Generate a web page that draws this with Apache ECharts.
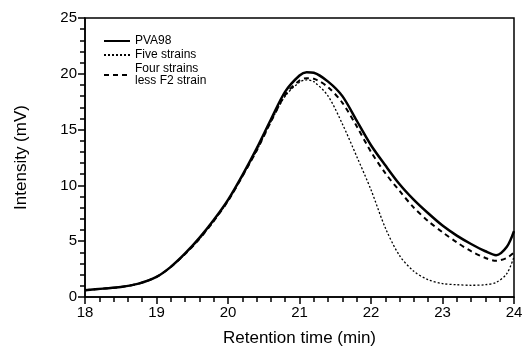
<!DOCTYPE html>
<html>
<head>
<meta charset="utf-8">
<script src="https://cdn.jsdelivr.net/npm/echarts@6/dist/echarts.min.js"></script>
<style>
  html, body { margin: 0; padding: 0; background: #fff; }
  #chart { width: 532px; height: 352px; }
</style>
</head>
<body>
<div id="chart"></div>
<script>
// 保留时间 (min)
let times = [18, 18.25, 18.5, 18.75, 19, 19.2, 19.4, 19.6, 19.8, 20, 20.2, 20.4, 20.6, 20.8,
    21, 21.1, 21.2, 21.4, 21.6, 21.8, 22, 22.2, 22.4, 22.6, 22.8, 23, 23.2, 23.4, 23.6, 23.75, 23.9, 24];
// PVA98
let pva98 = [0.6, 0.75, 0.9, 1.2, 1.8, 2.7, 3.9, 5.3, 6.9, 8.7, 10.9, 13.3, 15.9, 18.4,
    19.85, 20.15, 20.1, 19.3, 18.0, 15.8, 13.6, 11.8, 10.1, 8.7, 7.5, 6.4, 5.5, 4.75, 4.1, 3.75, 4.5, 5.9];
// Five strains
let fiveStrains = [0.6, 0.75, 0.9, 1.2, 1.8, 2.7, 3.85, 5.2, 6.8, 8.6, 10.8, 13.1, 15.7, 18.0,
    19.25, 19.45, 19.3, 18.0, 15.5, 12.6, 9.6, 6.2, 3.7, 2.3, 1.55, 1.2, 1.1, 1.05, 1.1, 1.3, 2.1, 3.6];
// Four strains less F2 strain
let fourStrains = [0.6, 0.75, 0.9, 1.2, 1.8, 2.7, 3.85, 5.2, 6.8, 8.6, 10.8, 13.1, 15.7, 18.1,
    19.4, 19.6, 19.55, 18.8, 17.4, 15.3, 13.0, 11.1, 9.5, 8.0, 6.8, 5.8, 4.9, 4.1, 3.5, 3.25, 3.5, 4.0];

let xTicks = [18, 19, 20, 21, 22, 23, 24];
let yTicks = [0, 5, 10, 15, 20, 25];

function pairs(ys) {
    let out = [];
    for (let i = 0; i < times.length; i++) {
        out.push([times[i], ys[i]]);
    }
    return out;
}

let myChart = echarts.init(document.getElementById('chart'));
let font = 'Liberation Sans, Arial, sans-serif';

function lineSeries(name, ys, style) {
    return {
        name: name,
        type: 'line',
        smooth: 0.3,
        showSymbol: false,
        symbol: 'none',
        lineStyle: style,
        itemStyle: { color: '#000' },
        data: pairs(ys)
    };
}

let option = {
    animation: false,
    grid: {
        left: 85, right: 18, top: 18, bottom: 53,
        show: true, borderColor: '#000', borderWidth: 1.5
    },
    legend: {
        orient: 'vertical',
        left: 98, top: 30,
        itemWidth: 26, itemHeight: 10, itemGap: 2,
        itemStyle: { opacity: 0 },
        textStyle: { fontFamily: font, fontSize: 12, color: '#000', lineHeight: 12 },
        data: ['PVA98', 'Five strains', 'Four strains\nless F2 strain']
    },
    xAxis: {
        type: 'value',
        min: xTicks[0], max: xTicks[xTicks.length - 1], interval: 1,
        name: 'Retention time (min)',
        nameLocation: 'middle', nameGap: 33,
        nameTextStyle: { fontFamily: font, fontSize: 17, color: '#000' },
        axisLine: { show: true, lineStyle: { color: '#000', width: 1.5 } },
        axisTick: { show: true, inside: false, length: 7, lineStyle: { color: '#000', width: 1.5 } },
        minorTick: { show: true, splitNumber: 5, length: 5, lineStyle: { color: '#000', width: 1.5 } },
        axisLabel: { fontFamily: font, fontSize: 15, color: '#000', margin: 8 },
        splitLine: { show: false }
    },
    yAxis: {
        type: 'value',
        min: yTicks[0], max: yTicks[yTicks.length - 1], interval: 5,
        name: 'Intensity (mV)',
        nameLocation: 'middle', nameGap: 55,
        nameTextStyle: { fontFamily: font, fontSize: 17, color: '#000' },
        axisLine: { show: true, lineStyle: { color: '#000', width: 1.5 } },
        axisTick: { show: true, inside: false, length: 7, lineStyle: { color: '#000', width: 1.5 } },
        minorTick: { show: true, splitNumber: 5, length: 5, lineStyle: { color: '#000', width: 1.5 } },
        axisLabel: { fontFamily: font, fontSize: 15, color: '#000', margin: 8 },
        splitLine: { show: false }
    },
    series: [
        lineSeries('PVA98', pva98, { color: '#000', width: 2.5 }),
        lineSeries('Five strains', fiveStrains, { color: '#000', width: 1.3, type: [2, 2] }),
        lineSeries('Four strains\nless F2 strain', fourStrains, { color: '#000', width: 2, type: [5, 4] })
    ]
};

myChart.setOption(option);
</script>
</body>
</html>
